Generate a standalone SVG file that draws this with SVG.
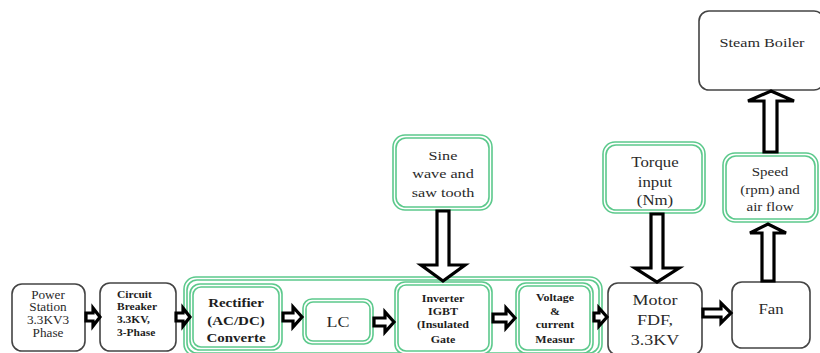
<svg xmlns="http://www.w3.org/2000/svg" width="820" height="353" viewBox="0 0 820 353">
<defs>
<style>
.bk{fill:#fff;stroke:#444;stroke-width:1.6}
.go{fill:none;stroke:#5cc98c;stroke-width:1.6}
.gi{fill:#fff;stroke:#5cc98c;stroke-width:1.6}
.ar{fill:#fff;stroke:#000;stroke-width:3.2;stroke-linejoin:miter}
text{font-family:'Liberation Serif','DejaVu Serif',serif;text-anchor:middle;fill:#2a2a2a}
.b{font-weight:bold;fill:#1e1e1e}
.s{text-anchor:start}
</style>
</defs>
<rect width="820" height="353" fill="#fff"/>
<g id="container">
<rect class="go" x="184" y="277" width="418" height="79" rx="12"/>
<rect class="go" x="187" y="280" width="412" height="73" rx="10"/>
</g>
<g id="power-station">
<rect class="bk" x="12" y="284" width="73" height="67" rx="10"/>
<g transform="translate(48 0) scale(1.15 1)"><text x="0" y="299" font-size="11.5" fill="#444">Power</text><text x="0" y="311" font-size="11.5" fill="#444">Station</text><text x="0" y="324" font-size="11.5" fill="#444">3.3KV3</text><text x="0" y="337" font-size="11.5" fill="#444">Phase</text></g>
</g>
<g id="circuit-breaker">
<rect class="bk" x="100" y="283" width="76" height="68" rx="10"/>
<g transform="translate(117 0) scale(1.15 1)"><text class="b s" x="0" y="298" font-size="10">Circuit</text><text class="b s" x="0" y="310" font-size="10">Breaker</text><text class="b s" x="0" y="323" font-size="10">3.3KV,</text><text class="b s" x="0" y="336" font-size="10">3-Phase</text></g>
</g>
<g id="rectifier">
<rect class="gi" x="190" y="284" width="92" height="66" rx="10"/>
<rect class="go" x="193" y="287" width="86" height="60" rx="8"/>
<g transform="translate(236 0) scale(1.2 1)"><text class="b" x="0" y="307" font-size="12.5">Rectifier</text><text class="b" x="0" y="325" font-size="12.5">(AC/DC)</text><text class="b" x="0" y="342" font-size="12.5">Converte</text></g>
</g>
<g id="lc">
<rect class="gi" x="303" y="299" width="70" height="45" rx="9"/>
<rect class="go" x="306" y="302" width="64" height="39" rx="7"/>
<g transform="translate(338 0) scale(1.2 1)"><text x="0" y="327" font-size="15">LC</text></g>
</g>
<g id="inverter">
<rect class="gi" x="395" y="282" width="97" height="72" rx="10"/>
<rect class="go" x="398" y="285" width="91" height="66" rx="8"/>
<g transform="translate(443 0) scale(1.2 1)"><text class="b" x="0" y="302" font-size="10">Inverter</text><text class="b" x="0" y="315" font-size="10">IGBT</text><text class="b" x="0" y="328" font-size="10">(Insulated</text><text class="b" x="0" y="343" font-size="10">Gate</text></g>
</g>
<g id="voltage">
<rect class="gi" x="516" y="283" width="77" height="70" rx="10"/>
<rect class="go" x="519" y="286" width="71" height="64" rx="8"/>
<g transform="translate(555 0) scale(1.2 1)"><text class="b" x="0" y="301" font-size="10">Voltage</text><text class="b" x="0" y="315" font-size="10">&amp;</text><text class="b" x="0" y="328" font-size="10">current</text><text class="b" x="0" y="343" font-size="10">Measur</text></g>
</g>
<g id="motor">
<rect class="bk" x="608" y="283" width="94" height="72" rx="10"/>
<g transform="translate(655 0) scale(1.2 1)"><text x="0" y="305" font-size="15">Motor</text><text x="0" y="325" font-size="15">FDF,</text><text x="0" y="345" font-size="15">3.3KV</text></g>
</g>
<g id="fan">
<rect class="bk" x="732" y="282" width="78" height="66" rx="10"/>
<g transform="translate(771 0) scale(1.2 1)"><text x="0" y="314" font-size="14">Fan</text></g>
</g>
<g id="sine">
<rect class="gi" x="393" y="135" width="99" height="75" rx="12"/>
<rect class="go" x="396" y="138" width="93" height="69" rx="10"/>
<g transform="translate(443 0) scale(1.2 1)"><text x="0" y="160" font-size="13.5">Sine</text><text x="0" y="178" font-size="13.5">wave and</text><text x="0" y="197" font-size="13.5">saw tooth</text></g>
</g>
<g id="torque">
<rect class="gi" x="603" y="142" width="102" height="71" rx="12"/>
<rect class="go" x="606" y="145" width="96" height="65" rx="10"/>
<g transform="translate(655 0) scale(1.2 1)"><text x="0" y="167" font-size="14">Torque</text><text x="0" y="187" font-size="14">input</text><text x="0" y="205" font-size="14">(Nm)</text></g>
</g>
<g id="speed">
<rect class="gi" x="723" y="153" width="95" height="69" rx="12"/>
<rect class="go" x="726" y="156" width="89" height="63" rx="10"/>
<g transform="translate(770 0) scale(1.2 1)"><text x="0" y="176" font-size="12.5">Speed</text><text x="0" y="194" font-size="12.5">(rpm) and</text><text x="0" y="211" font-size="12.5">air flow</text></g>
</g>
<g id="steam-boiler">
<rect class="bk" x="699" y="11" width="125" height="79" rx="10"/>
<g transform="translate(762 0) scale(1.2 1)"><text x="0" y="47" font-size="13.5">Steam Boiler</text></g>
</g>
<g id="connectors">
<path class="ar" d="M86,313 H93 V308 L100,317 L93,326 V321 H86 Z"/>
<path class="ar" d="M176,313 H183 V308 L190,317 L183,326 V321 H176 Z"/>
<path class="ar" d="M283,313 H293 V307 L302,317 L293,327 V321 H283 Z"/>
<path class="ar" d="M374,318 H385 V312 L394,322 L385,332 V326 H374 Z"/>
<path class="ar" d="M493,314 H506 V308 L515,318 L506,328 V322 H493 Z"/>
<path class="ar" d="M594,313 H599 V308 L607,317 L599,326 V321 H594 Z"/>
<path class="ar" d="M703,309 H721 V303 L731,313 L721,323 V317 H703 Z"/>
<path class="ar" d="M437,211 V265 H421 L443,281 L465,265 H449 V211 Z"/>
<path class="ar" d="M651,214 V268 H635 L657,282 L679,268 H663 V214 Z"/>
<path class="ar" d="M762,281 V233 H750 L768,224 L786,233 H774 V281 Z"/>
<path class="ar" d="M764,152 V101 H748 L771,91 L794,101 H777 V152 Z"/>
</g>
</svg>
